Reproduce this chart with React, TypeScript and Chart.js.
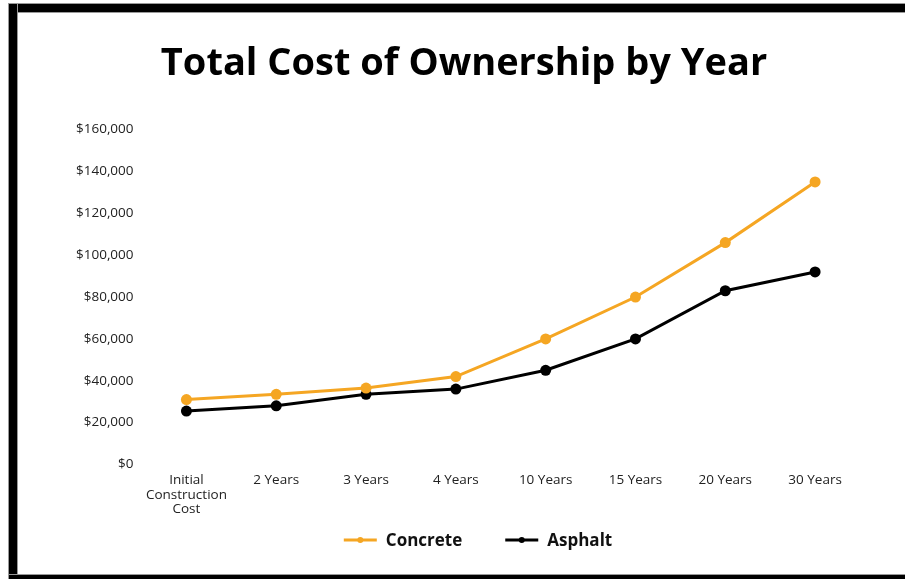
import React, { useEffect, useRef } from "react";
import { Chart, registerables } from "chart.js";

Chart.register(...registerables);

const categories: (string | string[])[] = [
  ["Initial", "Construction", "Cost"],
  "2 Years",
  "3 Years",
  "4 Years",
  "10 Years",
  "15 Years",
  "20 Years",
  "30 Years",
];
const concrete = [31000, 33500, 36500, 42000, 60000, 80000, 106000, 135000];
const asphalt = [25500, 28000, 33500, 36000, 45000, 60000, 83000, 92000];
const yMin = 0;
const yMax = 160000;
const yStep = 20000;

const ORANGE = "#F5A623";
const BLACK = "#000000";
const FONT = "'Open Sans', 'Noto Sans', sans-serif";

const customLegend = {
  id: "customLegend",
  afterDraw(chart: any) {
    const ctx = chart.ctx;
    const datasets = chart.data.datasets;
    const lineW = 33;
    const gapText = 9;
    const gapItem = 43;
    ctx.save();
    ctx.font = `bold 17px ${FONT}`;
    ctx.textBaseline = "middle";
    const widths = datasets.map((d: any) => ctx.measureText(d.label).width);
    const total = widths.reduce((s: number, w: number) => s + lineW + gapText + w, 0) + gapItem * (datasets.length - 1);
    const cx = chart.width / 2 + 17;
    const cy = 528;
    let x = cx - total / 2;
    datasets.forEach((d: any, i: number) => {
      ctx.strokeStyle = d.borderColor;
      ctx.lineWidth = 3;
      ctx.beginPath();
      ctx.moveTo(x, cy);
      ctx.lineTo(x + lineW, cy);
      ctx.stroke();
      ctx.fillStyle = d.borderColor;
      ctx.beginPath();
      ctx.arc(x + lineW / 2, cy, 3, 0, Math.PI * 2);
      ctx.fill();
      x += lineW + gapText;
      ctx.fillStyle = "#111";
      ctx.textAlign = "left";
      ctx.fillText(d.label, x, cy + 1);
      x += widths[i] + gapItem;
    });
    ctx.restore();
  },
};

export default function App() {
  const ref = useRef<HTMLCanvasElement | null>(null);
  useEffect(() => {
    if (!ref.current) return;
    const chart = new Chart(ref.current, {
      type: "line",
      data: {
        labels: categories,
        datasets: [
          {
            label: "Concrete",
            data: concrete,
            borderColor: ORANGE,
            backgroundColor: ORANGE,
            borderWidth: 3,
            pointRadius: 5.5,
            pointBackgroundColor: ORANGE,
            pointBorderWidth: 0,
            tension: 0,
          },
          {
            label: "Asphalt",
            data: asphalt,
            borderColor: BLACK,
            backgroundColor: BLACK,
            borderWidth: 3,
            pointRadius: 5.5,
            pointBackgroundColor: BLACK,
            pointBorderWidth: 0,
            tension: 0,
          },
        ],
      },
      options: {
        animation: false,
        responsive: false,
        maintainAspectRatio: false,
        layout: { padding: { top: 29, left: 51, right: 45, bottom: 50 } },
        plugins: {
          title: {
            display: true,
            text: "Total Cost of Ownership by Year",
            color: "#000",
            font: { family: FONT, size: 38, weight: "bold" },
            padding: { top: 0, bottom: 43 },
          },
          legend: { display: false },
          tooltip: { enabled: false },
        },
        scales: {
          x: {
            offset: true,
            grid: { display: false, drawTicks: false },
            border: { display: false },
            ticks: {
              color: "#222",
              font: { family: FONT, size: 13.5, lineHeight: 1.1 },
              padding: 8,
              maxRotation: 0,
              autoSkip: false,
            },
          },
          y: {
            min: yMin,
            max: yMax,
            grid: { display: false, drawTicks: false },
            border: { display: false },
            ticks: {
              stepSize: yStep,
              color: "#222",
              font: { family: FONT, size: 13.5 },
              padding: 8,
              callback: (v: any) => "$" + Number(v).toLocaleString("en-US"),
            },
          },
        },
      },
      plugins: [customLegend],
    });
    return () => chart.destroy();
  }, []);

  return (
    <div style={{ position: "absolute", left: 0, top: 0, width: 905, height: 579, background: "#fff", overflow: "hidden" }}>
      <div style={{ position: "absolute", left: 9, top: 4, width: 896, height: 8, background: "#000", boxShadow: "0 0 0 1px #999" }} />
      <div style={{ position: "absolute", left: 9, top: 4, width: 8, height: 575, background: "#000", boxShadow: "0 0 0 1px #999" }} />
      <div style={{ position: "absolute", left: 9, top: 575, width: 896, height: 4, background: "#000", boxShadow: "0 0 0 1px #999" }} />
      <canvas ref={ref} width={888} height={563} style={{ position: "absolute", left: 17, top: 12, width: 888, height: 563 }} />
    </div>
  );
}
